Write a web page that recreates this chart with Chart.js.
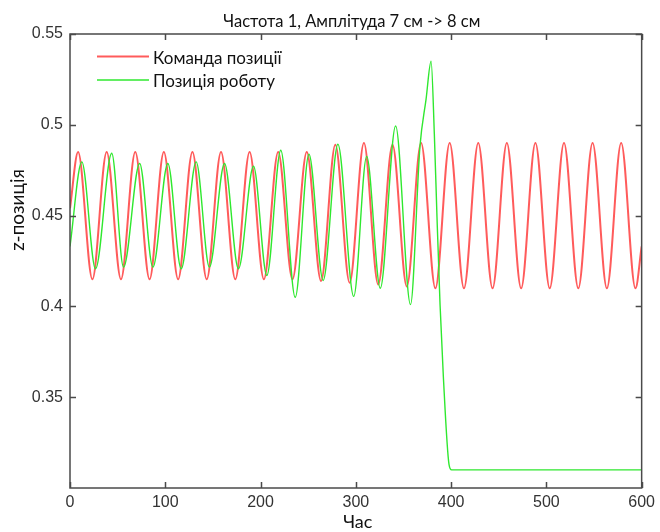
<!DOCTYPE html>
<html lang="uk">
<head>
<meta charset="UTF-8">
<title>Частота 1, Амплітуда 7 см -> 8 см</title>
<script src="https://cdn.jsdelivr.net/npm/chart.js"></script>
<style>
  body { margin: 0; background: #fff; }
  #wrap { width: 660px; height: 532px; position: relative; }
</style>
</head>
<body>
<div id="wrap"><canvas id="chart"></canvas></div>
<script>
// Команда позиції (peaks / troughs)
const cmdTime = [0, 8.5, 23.5, 38.5, 53.5, 68.5, 83.5, 98.5, 113.5, 128.5, 143.5, 158.5, 173.5, 188.5, 203.5,
  218.5, 233.5, 248.5, 263.5, 278.5, 293.5, 308.5, 323.5, 338.5, 353.5, 368.5, 383.5, 398.5, 413.5,
  428.5, 443.5, 458.5, 473.5, 488.5, 503.5, 518.5, 533.5, 548.5, 563.5, 578.5, 593.5, 600];
const cmdZ = [0.454, 0.485, 0.415, 0.485, 0.415, 0.485, 0.415, 0.485, 0.415, 0.485, 0.415, 0.485, 0.415, 0.485, 0.415,
  0.485, 0.415, 0.485, 0.414, 0.489, 0.413, 0.49, 0.412, 0.489, 0.411, 0.49, 0.41, 0.49, 0.41,
  0.49, 0.41, 0.49, 0.41, 0.49, 0.41, 0.49, 0.41, 0.49, 0.41, 0.49, 0.41, 0.433];

// Позиція роботу
const robotTime = [0, 12.4, 26.8, 43.8, 56.2, 73.1, 87, 102.7, 116.7, 132.4, 146.3, 162.2, 176.8, 192.6, 206.6,
  221.2, 236.4, 250.8, 265.7, 281.2, 297.8, 311.4, 325.7, 341.8, 357.4, 367.3, 373.7, 379,
  382.4, 385.2, 388.4, 391.9, 397.8, 400.5, 600];
const robotZ = [0.433, 0.4796, 0.4207, 0.4843, 0.4216, 0.4787, 0.4216, 0.4787, 0.4207, 0.4796, 0.4216, 0.4787, 0.4207, 0.4772, 0.417,
  0.486, 0.405, 0.4838, 0.4143, 0.4893, 0.4055, 0.4826, 0.41, 0.4993, 0.401, 0.488, 0.514, 0.535,
  0.495, 0.449, 0.401, 0.361, 0.313, 0.31, 0.31];

const xTicks = [0, 100, 200, 300, 400, 500, 600];
const yTicks = [0.35, 0.4, 0.45, 0.5, 0.55];

const titleText = 'Частота 1, Амплітуда 7 см -> 8 см';
const xLabel = 'Час';
const yLabel = 'z-позиція';
const seriesNames = ['Команда позиції', 'Позиція роботу'];

const RED = 'rgba(255, 50, 50, 0.8)';
const GREEN = '#2fe82f';
const AXIS = '#4a4a4a';
const TEXT_FONT = 'Lato, "Open Sans", sans-serif';

const toPoints = (xs, ys) => xs.map((x, i) => ({ x: x, y: ys[i] }));

// box, inward ticks, title, axis labels and legend in MATLAB style
const matlabFrame = {
  id: 'matlabFrame',
  afterDatasetsDraw(chart) {
    const { ctx, chartArea: a, scales } = chart;
    ctx.save();
    ctx.strokeStyle = AXIS;
    ctx.lineWidth = 1.5;
    ctx.strokeRect(a.left, a.top, a.right - a.left, a.bottom - a.top);
    ctx.beginPath();
    scales.x.ticks.forEach(t => {
      const px = Math.round(scales.x.getPixelForValue(t.value)) + 0.5;
      ctx.moveTo(px, a.bottom); ctx.lineTo(px, a.bottom - 6);
      ctx.moveTo(px, a.top); ctx.lineTo(px, a.top + 6);
    });
    scales.y.ticks.forEach(t => {
      const py = Math.round(scales.y.getPixelForValue(t.value)) + 0.5;
      ctx.moveTo(a.left, py); ctx.lineTo(a.left + 6, py);
      ctx.moveTo(a.right, py); ctx.lineTo(a.right - 6, py);
    });
    ctx.stroke();
    ctx.restore();
  },
  afterDraw(chart) {
    const { ctx, chartArea: a } = chart;
    const mid = (a.left + a.right) / 2;
    ctx.save();
    ctx.fillStyle = '#111';
    ctx.textAlign = 'center';
    ctx.textBaseline = 'alphabetic';
    ctx.font = '16.5px ' + TEXT_FONT;
    ctx.fillText(titleText, mid - 4, 26.5);
    ctx.font = '18px ' + TEXT_FONT;
    ctx.fillText(xLabel, mid + 2, 528);

    ctx.save();
    ctx.translate(24, 210);
    ctx.rotate(-Math.PI / 2);
    ctx.font = '19px ' + TEXT_FONT;
    ctx.fillText(yLabel, 0, 0);
    ctx.restore();

    // legend
    const colors = [RED, GREEN];
    const widths = [2, 1.4];
    ctx.font = '17px ' + TEXT_FONT;
    seriesNames.forEach((name, i) => {
      const ly = 56.5 + i * 23.5;
      ctx.strokeStyle = colors[i];
      ctx.lineWidth = widths[i];
      ctx.beginPath();
      ctx.moveTo(97, ly); ctx.lineTo(149, ly);
      ctx.stroke();
      ctx.textAlign = 'left';
      ctx.fillText(name, 153, ly + 7);
    });
    ctx.restore();
  }
};

new Chart(document.getElementById('chart'), {
  type: 'line',
  data: {
    datasets: [
      {
        label: seriesNames[0],
        data: toPoints(cmdTime, cmdZ),
        borderColor: RED,
        borderWidth: 2,
        pointRadius: 0,
        cubicInterpolationMode: 'monotone',
        order: 1
      },
      {
        label: seriesNames[1],
        data: toPoints(robotTime, robotZ),
        borderColor: GREEN,
        borderWidth: 1.4,
        pointRadius: 0,
        cubicInterpolationMode: 'monotone',
        order: 0
      }
    ]
  },
  options: {
    responsive: true,
    maintainAspectRatio: false,
    animation: false,
    events: [],
    layout: { padding: { left: 0, top: 34, right: 16, bottom: 0 } },
    plugins: {
      legend: { display: false },
      title: { display: false },
      tooltip: { enabled: false }
    },
    scales: {
      x: {
        type: 'linear',
        min: 0,
        max: 600,
        afterBuildTicks: s => { s.ticks = xTicks.map(v => ({ value: v })); },
        afterFit: s => { s.height = 44; },
        grid: { display: false, drawTicks: false },
        border: { display: false },
        ticks: {
          padding: 5,
          maxRotation: 0,
          color: '#333',
          font: { family: '"Liberation Sans", Arial, sans-serif', size: 16 }
        }
      },
      y: {
        min: 0.3,
        max: 0.55,
        afterBuildTicks: s => { s.ticks = yTicks.map(v => ({ value: v })); },
        afterFit: s => { s.width = 70; },
        grid: { display: false, drawTicks: false },
        border: { display: false },
        ticks: {
          padding: 7,
          color: '#333',
          font: { family: '"Liberation Sans", Arial, sans-serif', size: 16 },
          callback: v => String(+v.toFixed(2))
        }
      }
    }
  },
  plugins: [matlabFrame]
});
</script>
</body>
</html>
